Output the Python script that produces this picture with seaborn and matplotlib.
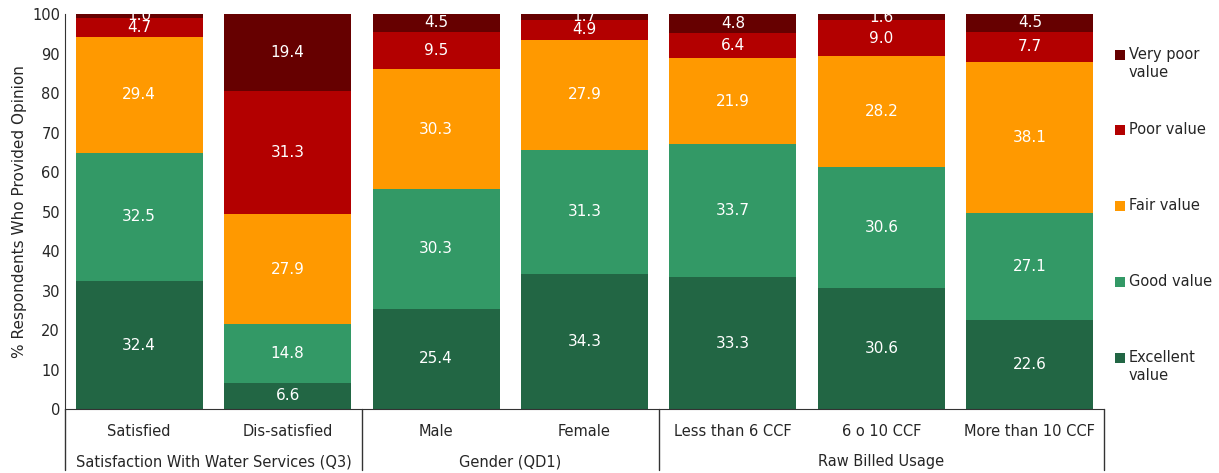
import numpy as np
import pandas as pd
import matplotlib
matplotlib.use('Agg')
import matplotlib.pyplot as plt
import matplotlib.transforms as mtransforms
from matplotlib.patches import Rectangle
import seaborn as sns

# ── Data ──────────────────────────────────────────────────────────────────────

categories = ['Satisfied', 'Dis-satisfied', 'Male', 'Female',
              'Less than 6 CCF', '6 o 10 CCF', 'More than 10 CCF']
groups = ['Satisfaction With Water Services (Q3)', 'Gender (QD1)', 'Raw Billed Usage']
group_sizes = [2, 2, 3]

series = ['Excellent value', 'Good value', 'Fair value', 'Poor value', 'Very poor value']
excellent = [32.4, 6.6, 25.4, 34.3, 33.3, 30.6, 22.6]
good      = [32.5, 14.8, 30.3, 31.3, 33.7, 30.6, 27.1]
fair      = [29.4, 27.9, 30.3, 27.9, 21.9, 28.2, 38.1]
poor      = [4.7, 31.3, 9.5, 4.9, 6.4, 9.0, 7.7]
very_poor = [1.0, 19.4, 4.5, 1.7, 4.8, 1.6, 4.5]

colors = ['#226644', '#339966', '#FF9900', '#B30000', '#660000']
legend_labels = ['Excellent\nvalue', 'Good value', 'Fair value', 'Poor value', 'Very poor\nvalue']

# ── Plot ──────────────────────────────────────────────────────────────────────

sns.set_style('ticks')
plt.rcParams['font.family'] = ['DejaVu Sans']

W, H = 1219, 473
fig = plt.figure(figsize=(W / 100, H / 100), dpi=100)
ax = fig.add_axes([0.0533, 0.1353, 0.8524, 0.8351])

values = np.array([excellent, good, fair, poor, very_poor])
tops = values.cumsum(axis=0)

# draw tallest cumulative first so smaller ones sit on top
for i in range(len(series) - 1, -1, -1):
    df = pd.DataFrame({'cat': categories, 'top': tops[i]})
    sns.barplot(data=df, x='cat', y='top', order=categories, color=colors[i],
                saturation=1, width=0.855, ax=ax, linewidth=0)

for i in range(len(series)):
    for j in range(len(categories)):
        ax.text(j, tops[i, j] - values[i, j] / 2, f'{values[i, j]:.1f}',
                ha='center', va='center', color='white', fontsize=11, clip_on=True)

ax.set_ylim(0, 100)
ax.set_xlim(-0.5, len(categories) - 0.5)
ax.set_yticks(range(0, 101, 10))
ax.tick_params(axis='y', length=0, labelsize=10.5)
ax.set_ylabel('% Respondents Who Provided Opinion', fontsize=11)
ax.set_xlabel('')
ax.set_xticks([])
sns.despine(ax=ax, top=True, right=True)
ax.spines['left'].set_color('#333333')
ax.spines['bottom'].set_color('#333333')

# grouped category axis below
trans = mtransforms.blended_transform_factory(ax.transData, ax.transAxes)
for j, cat in enumerate(categories):
    ax.text(j, -0.058, cat, transform=trans, ha='center', va='center', fontsize=10.5)

edges = np.concatenate([[0], np.cumsum(group_sizes)]) - 0.5
for k, g in enumerate(groups):
    mid = (edges[k] + edges[k + 1]) / 2
    ax.text(mid, -0.134, g, transform=trans, ha='center', va='center', fontsize=10.5)
for e in edges:
    ax.plot([e, e], [0, -0.155], transform=trans, color='#333333', lw=1, clip_on=False)

# legend, laid out by hand (top line of each entry evenly spaced)
entry_y = [55, 130, 206, 282, 358]
for y, c, lab in zip(entry_y, colors[::-1], legend_labels[::-1]):
    fig.add_artist(Rectangle(((1115) / W, 1 - (y + 5) / H), 10 / W, 10 / H,
                             transform=fig.transFigure, facecolor=c, edgecolor='none'))
    fig.text(1129 / W, 1 - (y - 8) / H, lab, ha='left', va='top', fontsize=10.5,
             linespacing=1.25)

fig.savefig('out.png', dpi=100)
